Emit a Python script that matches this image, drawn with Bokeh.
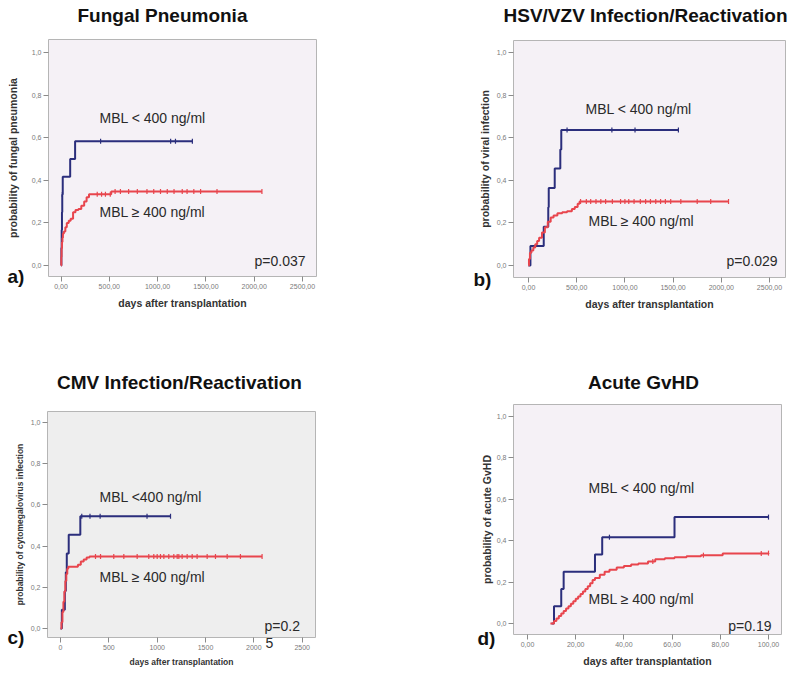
import numpy as np
from bokeh.plotting import figure
from bokeh.models import Label, FixedTicker, CustomJSTickFormatter, LinearAxis
from bokeh.layouts import column, row
from bokeh.embed import file_html
from bokeh.resources import INLINE

FONT = "Liberation Sans"
BLUE = "#2b2e7c"
RED = "#e8454d"

# ---------------- data ----------------
# a) Fungal pneumonia
a_low_t = [0, 4, 7, 10, 13, 18, 95, 146, 1360]
a_low_p = [0, 0.083, 0.167, 0.25, 0.333, 0.417, 0.5, 0.583, 0.583]
a_low_cens = [14, 410, 1135, 1185, 1360]
a_high_t = [0, 3, 6, 10, 15, 20, 30, 45, 60, 80, 100, 125, 150, 180, 210, 240, 265, 290, 520, 2080]
a_high_p = [0, 0.04, 0.08, 0.11, 0.13, 0.15, 0.16, 0.18, 0.20, 0.21, 0.22, 0.25, 0.26, 0.265,
            0.28, 0.30, 0.32, 0.335, 0.347, 0.347]
a_high_cens = [375, 420, 460, 510, 560, 615, 700, 790, 890, 960, 1030, 1100, 1170, 1255, 1305,
               1375, 1445, 1615, 2080]

# b) HSV/VZV infection/reactivation
b_low_t = [0, 20, 158, 205, 210, 272, 330, 340, 1555]
b_low_p = [0, 0.091, 0.182, 0.273, 0.364, 0.455, 0.545, 0.636, 0.636]
b_low_cens = [400, 865, 1105, 1555]
b_high_t = [0, 5, 15, 30, 50, 70, 90, 110, 140, 170, 200, 230, 260, 300, 350, 400, 450, 480,
            510, 530, 2075]
b_high_p = [0, 0.03, 0.06, 0.07, 0.085, 0.10, 0.115, 0.13, 0.155, 0.18, 0.205, 0.225, 0.235,
            0.245, 0.25, 0.255, 0.265, 0.275, 0.29, 0.30, 0.30]
b_high_cens = [540, 600, 645, 700, 750, 800, 870, 955, 1000, 1040, 1095, 1160, 1215, 1265, 1320,
               1370, 1420, 1475, 1580, 1750, 1890, 2075]

# c) CMV infection/reactivation
c_low_t = [0, 14, 45, 55, 65, 85, 205, 1138]
c_low_p = [0, 0.091, 0.182, 0.273, 0.364, 0.455, 0.545, 0.545]
c_low_cens = [220, 305, 410, 895, 1138]
c_high_t = [0, 10, 20, 30, 40, 50, 60, 70, 80, 150, 180, 210, 240, 270, 300, 2085]
c_high_p = [0, 0.03, 0.08, 0.13, 0.18, 0.23, 0.265, 0.29, 0.30, 0.30, 0.31, 0.325, 0.335,
            0.345, 0.35, 0.35]
c_high_cens = [362, 414, 551, 655, 793, 913, 965, 1000, 1034, 1069, 1120, 1172, 1207, 1224,
               1258, 1310, 1362, 1413, 1517, 1603, 1724, 1861, 2085]

# d) Acute GvHD
d_low_t = [10, 11, 14, 15, 28, 31, 61, 100]
d_low_p = [0, 0.083, 0.167, 0.25, 0.333, 0.417, 0.514, 0.514]
d_low_cens = [34, 100]
d_high_t = [9.5, 11, 12, 13, 14, 15, 16, 17, 18, 19, 20, 21, 22, 23, 24, 25, 26, 27, 28, 30,
            32, 34, 37, 40, 43, 46, 50, 53, 57, 61, 66, 72, 81, 100]
d_high_p = [0, 0.012, 0.024, 0.036, 0.048, 0.06, 0.072, 0.083, 0.095, 0.107, 0.119, 0.131,
            0.143, 0.155, 0.167, 0.18, 0.195, 0.21, 0.22, 0.235, 0.25, 0.26, 0.27, 0.278, 0.285,
            0.29, 0.30, 0.31, 0.315, 0.32, 0.325, 0.33, 0.338, 0.34]
d_high_cens = [52, 73, 97, 100]

y_ticks = [0, 0.2, 0.4, 0.6, 0.8, 1]
x_ticks_long = [0, 500, 1000, 1500, 2000, 2500]
x_ticks_d = [0, 20, 40, 60, 80, 100]

FIG_W, FIG_H = 399, 337


def step_value(t, p, c):
    t = np.asarray(t, float)
    p = np.asarray(p, float)
    idx = np.searchsorted(t, np.asarray(c, float), side="right") - 1
    return p[np.clip(idx, 0, len(p) - 1)]


class Panel:
    """One sub-chart; layout given in page pixels, data mapped through Bokeh scales."""

    def __init__(self, origin, xcal, ycal, box, bg, xticks, xdec, ylabel, ylab_standoff,
                 lab_size="10.5px", xlab_standoff=5):
        self.ox, self.oy = origin
        self.xcal, self.ycal = xcal, ycal
        xr = (self.xv(self.ox), self.xv(self.ox + FIG_W))
        yr = (self.yv(self.oy + FIG_H), self.yv(self.oy))
        p = figure(width=FIG_W, height=FIG_H, x_range=xr, y_range=yr, output_backend="svg",
                   toolbar_location=None, x_axis_type=None, y_axis_type=None,
                   min_border=0, min_border_left=0, min_border_right=0, min_border_top=0,
                   min_border_bottom=0)
        p.background_fill_color = "white"
        p.border_fill_color = "white"
        p.outline_line_color = None
        bl, br, bt, bb = box
        x0, x1, y0, y1 = self.xv(bl), self.xv(br), self.yv(bb), self.yv(bt)
        # plot area box
        p.quad(left=[x0], right=[x1], bottom=[y0], top=[y1], fill_color=bg,
               line_color="#b5b5b5", line_width=1)
        yax = LinearAxis(fixed_location=x0, bounds=(y0, y1))
        xax = LinearAxis(fixed_location=y0, bounds=(x0, x1))
        for ax in (xax, yax):
            ax.axis_line_color = None
            ax.major_tick_line_color = "#8a8a8a"
            ax.major_tick_in = 0
            ax.major_tick_out = 5
            ax.minor_tick_line_color = None
            ax.major_label_text_font = FONT
            ax.major_label_text_font_size = "7px"
            ax.major_label_text_color = "#7a7a7a"
            ax.axis_label_text_font = FONT
            ax.axis_label_text_font_size = lab_size
            ax.axis_label_text_font_style = "bold"
            ax.axis_label_text_color = "#333333"
        yax.ticker = FixedTicker(ticks=y_ticks)
        yax.formatter = CustomJSTickFormatter(code="return tick.toFixed(1).replace('.', ',')")
        yax.major_label_standoff = 2
        yax.axis_label = ylabel
        yax.axis_label_standoff = ylab_standoff
        xax.ticker = FixedTicker(ticks=xticks)
        xax.formatter = CustomJSTickFormatter(
            code="return tick.toFixed(%d).replace('.', ',')" % xdec)
        xax.major_label_standoff = 2
        xax.axis_label = "days after transplantation"
        xax.axis_label_standoff = xlab_standoff
        p.add_layout(yax, "left")
        p.add_layout(xax, "below")
        self.p = p

    def xv(self, px):
        (p0, v0), (p1, v1) = self.xcal
        return v0 + (px - p0) * (v1 - v0) / (p1 - p0)

    def yv(self, py):
        (p0, v0), (p1, v1) = self.ycal
        return v0 + (py - p0) * (v1 - v0) / (p1 - p0)

    def curve(self, t, pr, cens, color):
        self.p.step(t, pr, mode="after", line_color=color, line_width=2)
        self.p.scatter(cens, step_value(t, pr, cens), marker="dash", angle=np.pi / 2, size=5,
                       line_color=color, line_width=1.2)

    def text(self, px, py, text, size="14px", align="left", bold=False, color="#2a2a2a"):
        self.p.add_layout(Label(x=self.xv(px), y=self.yv(py), text=text, text_font=FONT,
                                text_font_size=size, text_align=align, text_baseline="middle",
                                text_color=color,
                                text_font_style="bold" if bold else "normal"))

    def title(self, px, py, text, align="center"):
        self.text(px, py, text, size="19px", align=align, bold=True, color="#111111")


# ---- a ----
A = Panel((0, 0), ((60.5, 0), (302, 2500)), ((265, 0), (52, 1)), (48, 316, 39, 276),
          "#f5f1f6", x_ticks_long, 2, "probability of fungal pneumonia", 10)
A.curve(a_low_t, a_low_p, a_low_cens, BLUE)
A.curve(a_high_t, a_high_p, a_high_cens, RED)
A.title(77, 15, "Fungal Pneumonia", align="left")
A.text(99, 117, "MBL < 400 ng/ml")
A.text(99, 211, "MBL \u2265 400 ng/ml")
A.text(305, 260, "p=0.037", align="right")
A.text(7, 276, "a)", size="19px", bold=True, color="#111111")

# ---- b ----
B = Panel((399, 0), ((528, 0), (769, 2500)), ((265, 0), (52, 1)), (513, 785, 40, 277),
          "#f5f1f6", x_ticks_long, 2, "probability of viral infection", 3)
B.curve(b_low_t, b_low_p, b_low_cens, BLUE)
B.curve(b_high_t, b_high_p, b_high_cens, RED)
B.title(645, 15, "HSV/VZV Infection/Reactivation")
B.text(585, 108, "MBL < 400 ng/ml")
B.text(588, 220, "MBL \u2265 400 ng/ml")
B.text(777, 260, "p=0.029", align="right")
B.text(473, 279, "b)", size="19px", bold=True, color="#111111")

# ---- c ----
C = Panel((0, 337), ((60, 0), (301.7, 2500)), ((628, 0), (422, 1)), (47, 315, 411, 637),
          "#eeeeee", x_ticks_long, 0, "probability of cytomegalovirus infection", 3,
          lab_size="8.5px", xlab_standoff=4)
C.curve(c_low_t, c_low_p, c_low_cens, BLUE)
C.curve(c_high_t, c_high_p, c_high_cens, RED)
C.title(179, 382, "CMV Infection/Reactivation")
C.text(99, 496, "MBL <400 ng/ml")
C.text(99, 576, "MBL \u2265 400 ng/ml")
C.text(264, 625, "p=0.2")
C.text(265, 642, "5")
C.text(7, 637, "c)", size="19px", bold=True, color="#111111")

# ---- d ----
D = Panel((399, 337), ((527, 0), (768, 100)), ((623, 0), (416, 1)), (513, 781, 404, 634),
          "#f5f1f6", x_ticks_d, 2, "probability of acute GvHD", 1)
D.curve(d_low_t, d_low_p, d_low_cens, BLUE)
D.curve(d_high_t, d_high_p, d_high_cens, RED)
D.title(643, 382, "Acute GvHD")
D.text(588, 487, "MBL < 400 ng/ml")
D.text(588, 598, "MBL \u2265 400 ng/ml")
D.text(771, 625, "p=0.19", align="right")
D.text(477, 638, "d)", size="19px", bold=True, color="#111111")

layout = column(row(A.p, B.p), row(C.p, D.p))
open("out.html", "w").write(file_html(layout, INLINE))
